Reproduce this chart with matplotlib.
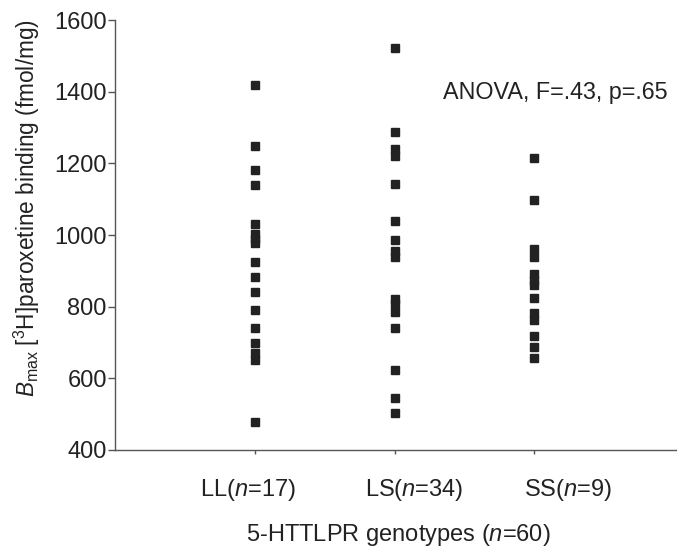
import matplotlib.pyplot as plt
from matplotlib.transforms import blended_transform_factory

plt.rcParams['font.family'] = ['Liberation Sans', 'DejaVu Sans']
plt.rcParams['mathtext.fontset'] = 'custom'
plt.rcParams['mathtext.rm'] = 'Liberation Sans'
plt.rcParams['mathtext.it'] = 'Liberation Sans:italic'

# Bmax values (fmol/mg)
ll_vals = [1418, 1248, 1183, 1139, 1030, 1002, 990, 977, 924, 883, 841,
           790, 740, 700, 672, 650, 479]
ls_vals = [1522, 1288, 1240, 1220, 1142, 1040, 986, 955, 940, 821, 807,
           785, 740, 623, 544, 502]
ss_vals = [1214, 1098, 961, 938, 891, 874, 860, 823, 782, 763, 718, 687, 656]

groups = [ll_vals, ls_vals, ss_vals]
group_x = [1, 2, 3]
label_x = [0.95, 2.14, 3.24]
group_labels = [r'LL($n$=17)', r'LS($n$=34)', r'SS($n$=9)']
y_ticks = [400, 600, 800, 1000, 1200, 1400, 1600]

ink = '#222222'

fig = plt.figure(figsize=(6.77, 5.48), dpi=100)
ax = fig.add_axes([0.170, 0.179, 0.830, 0.784])

for x, vals in zip(group_x, groups):
    ax.plot([x] * len(vals), vals, linestyle='none', marker='s',
            markersize=5.6, color=ink)

ax.set_xlim(0, 4.02)
ax.set_ylim(400, 1600)
ax.set_yticks(y_ticks)
ax.set_xticks(group_x)
ax.set_xticklabels([])

for side in ['top', 'right']:
    ax.spines[side].set_visible(False)
for side in ['left', 'bottom']:
    ax.spines[side].set_color('#555555')
    ax.spines[side].set_linewidth(1.0)

ax.tick_params(axis='y', direction='out', length=5, width=1, color='#555555',
               labelsize=17, labelcolor=ink, pad=1)
ax.tick_params(axis='x', direction='out', length=3, width=1, color='#555555')

trans = blended_transform_factory(ax.transData, ax.transAxes)
for x, lab in zip(label_x, group_labels):
    ax.text(x, -0.093, lab, transform=trans, ha='center', va='center',
            fontsize=17, color=ink)

# x axis title sits right at the bottom edge, as in the source figure
fig.text(0.588, 0.013, r'5-HTTLPR genotypes ($n$=60)', ha='center',
         va='baseline', fontsize=17, color=ink)
fig.text(0.040, 0.62, r'$B_{\rm max}$ [$^{3}$H]paroxetine binding (fmol/mg)',
         rotation=90, ha='center', va='center', fontsize=16.3, color=ink)

ax.text(0.984, 0.833, 'ANOVA, F=.43, p=.65', transform=ax.transAxes,
        ha='right', va='center', fontsize=16.8, color=ink)

fig.savefig('out.png', dpi=100)
